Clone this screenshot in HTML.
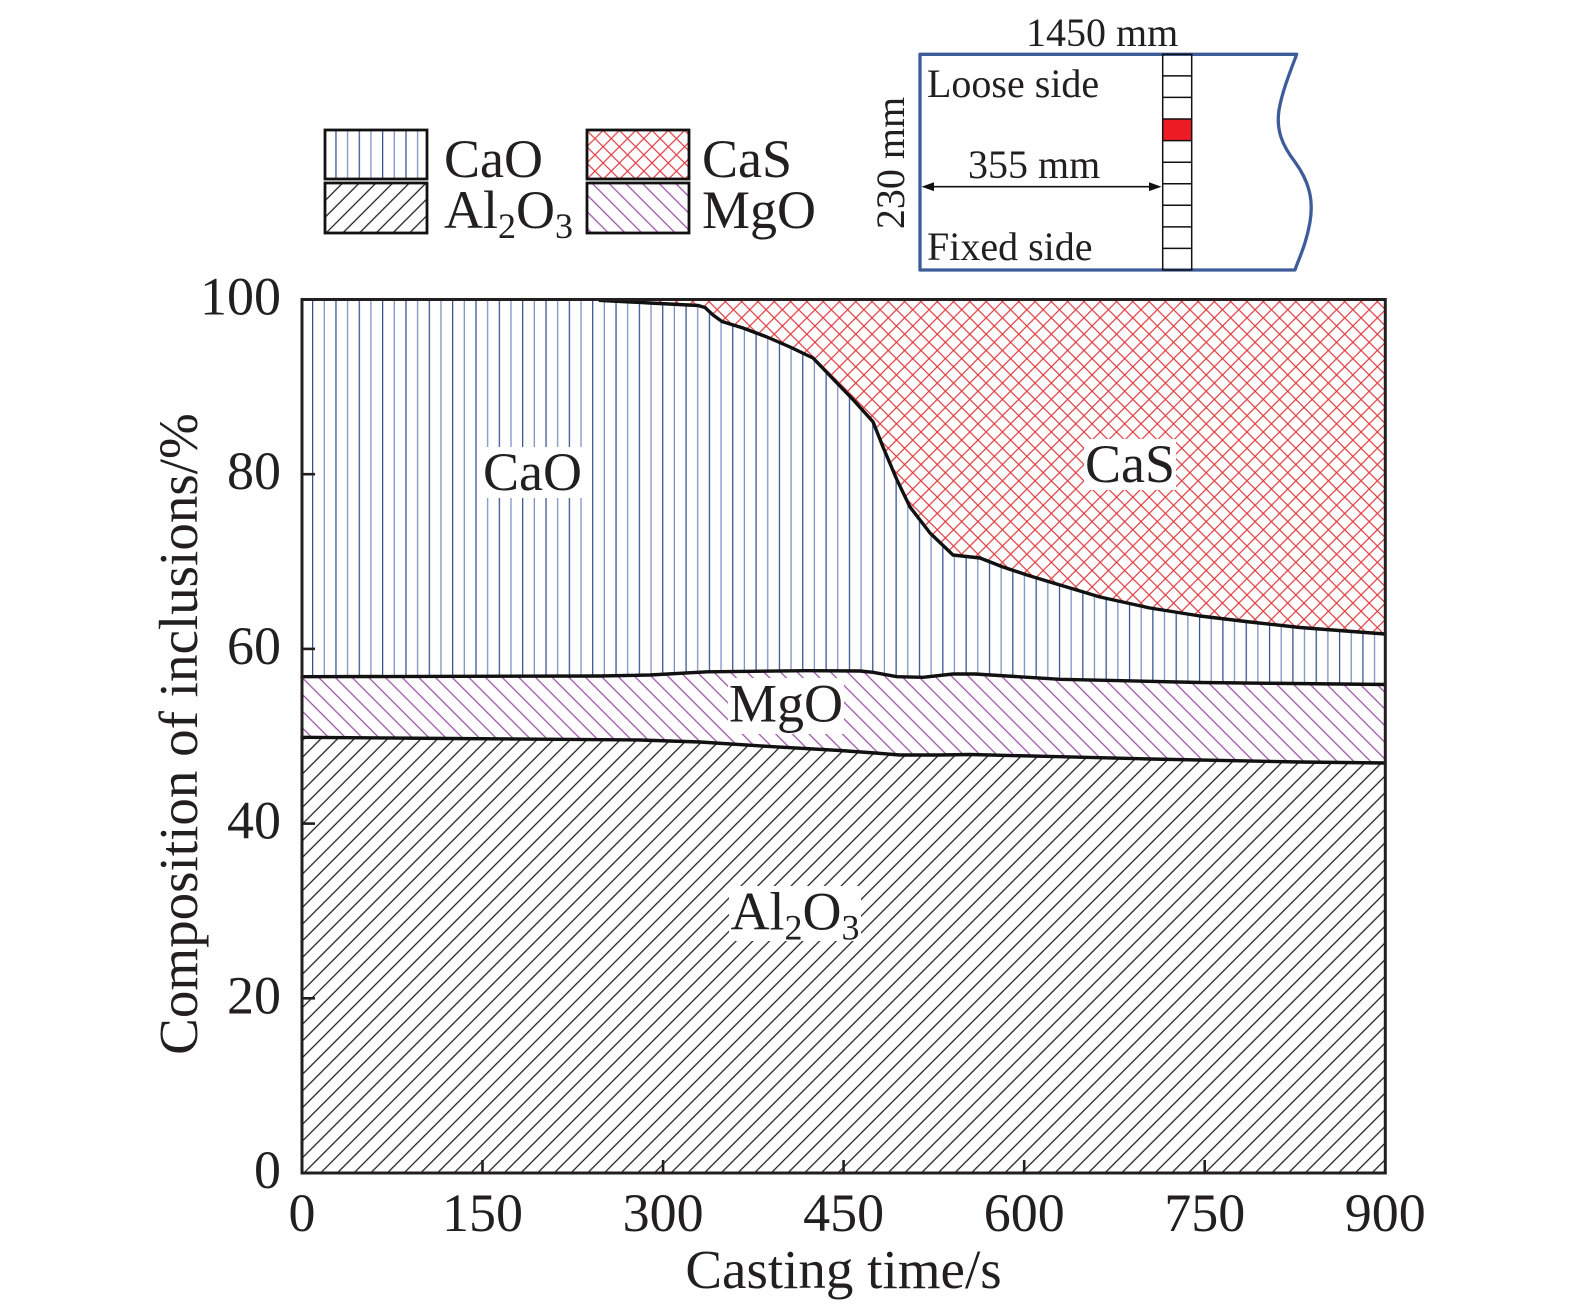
<!DOCTYPE html>
<html>
<head>
<meta charset="utf-8">
<style>
html,body{margin:0;padding:0;background:#fff;}
svg{display:block;}
text{font-family:"Liberation Serif","DejaVu Serif",serif;fill:#231f20;}
</style>
</head>
<body>
<svg width="1575" height="1310" viewBox="0 0 1575 1310" xmlns="http://www.w3.org/2000/svg">
<defs>
  <pattern id="pCaO" patternUnits="userSpaceOnUse" x="312" y="0" width="23.34" height="20">
    <line x1="0.6" y1="0" x2="0.6" y2="20" stroke="#34508f" stroke-width="1.3"/>
    <line x1="12.27" y1="0" x2="12.27" y2="20" stroke="#7f92c2" stroke-width="1.3"/>
  </pattern>
  <pattern id="pAl" patternUnits="userSpaceOnUse" width="11.8" height="10" patternTransform="rotate(45)">
    <line x1="5.9" y1="-1" x2="5.9" y2="11" stroke="#1a1a1a" stroke-width="1.25"/>
  </pattern>
  <pattern id="pMg" patternUnits="userSpaceOnUse" width="11.8" height="10" patternTransform="rotate(-45)">
    <line x1="5.9" y1="-1" x2="5.9" y2="11" stroke="#9b4fa6" stroke-width="1.25"/>
  </pattern>
  <pattern id="pCaS" patternUnits="userSpaceOnUse" width="16.3" height="16.3">
    <line x1="0" y1="0" x2="16.3" y2="16.3" stroke="#e03c40" stroke-width="1.2"/>
    <line x1="0" y1="16.3" x2="16.3" y2="0" stroke="#e03c40" stroke-width="1.2"/>
  </pattern>
</defs>

<!-- Plot regions -->
<!-- CaS (top) -->
<polygon fill="url(#pCaS)" points="302,299.5 1385,299.5 1385,634 1300,627.5 1250,622 1200,616 1150,608 1100,597 1050,582 1027,575 1003,567 980,558 953,555 930,533 910,507 897,480 883,447 873,421.8 855,401.7 837,383 813,358 790,347 767,337 743,328 722,321.5 713,315 705,307.5 698,305.5 650,303 600,300.4 302,299.5"/>
<!-- CaO -->
<polygon fill="url(#pCaO)" points="302,299.5 600,300.4 650,303 698,305.5 705,307.5 713,315 722,321.5 743,328 767,337 790,347 813,358 837,383 855,401.7 873,421.8 883,447 897,480 910,507 930,533 953,555 980,558 1003,567 1027,575 1050,582 1100,597 1150,608 1200,616 1250,622 1300,627.5 1385,634 1385,684.5 1200,682.5 1060,679.3 975,674 953,674 923,677.3 897,676.7 873,672.3 860,671 807,670.7 707,671.8 650,675 600,676 302,676.7"/>
<!-- MgO -->
<polygon fill="url(#pMg)" points="302,676.7 600,676 650,675 707,671.8 807,670.7 860,671 873,672.3 897,676.7 923,677.3 953,674 975,674 1060,679.3 1200,682.5 1385,684.5 1385,763 1300,762 1150,759 1060,756.7 970,754.5 940,755 900,755 875,753 840,750.5 773,746.7 700,742 640,740 450,738.5 302,737.3"/>
<!-- Al2O3 -->
<polygon fill="url(#pAl)" points="302,737.3 450,738.5 640,740 700,742 773,746.7 840,750.5 875,753 900,755 940,755 970,754.5 1060,756.7 1150,759 1300,762 1385,763 1385,1173 302,1173"/>

<!-- Boundaries -->
<g fill="none" stroke="#111" stroke-width="3.4" stroke-linejoin="round" stroke-linecap="round">
  <polyline points="600,300.4 650,303 698,305.5 705,307.5 713,315 722,321.5 743,328 767,337 790,347 813,358 837,383 855,401.7 873,421.8 883,447 897,480 910,507 930,533 953,555 980,558 1003,567 1027,575 1050,582 1100,597 1150,608 1200,616 1250,622 1300,627.5 1385,634"/>
  <polyline points="302,676.7 600,676 650,675 707,671.8 807,670.7 860,671 873,672.3 897,676.7 923,677.3 953,674 975,674 1060,679.3 1200,682.5 1385,684.5"/>
  <polyline points="302,737.3 450,738.5 640,740 700,742 773,746.7 840,750.5 875,753 900,755 940,755 970,754.5 1060,756.7 1150,759 1300,762 1385,763"/>
</g>

<!-- In-plot labels -->
<rect x="483" y="447" width="100" height="51" fill="#fff"/>
<text x="532.5" y="490" font-size="54" text-anchor="middle">CaO</text>
<rect x="1084" y="439" width="92" height="51" fill="#fff"/>
<text x="1130" y="482" font-size="54" text-anchor="middle">CaS</text>
<rect x="728" y="678" width="116" height="56" fill="#fff"/>
<text x="786" y="721.5" font-size="54" text-anchor="middle">MgO</text>
<rect x="729" y="886" width="132" height="55" fill="#fff"/>
<text x="795" y="929.5" font-size="54" text-anchor="middle">Al<tspan font-size="36" dy="10">2</tspan><tspan dy="-10">O</tspan><tspan font-size="36" dy="10">3</tspan></text>

<!-- Frame -->
<rect x="302" y="299.5" width="1083.3" height="873.5" fill="none" stroke="#231f20" stroke-width="3"/>

<!-- Ticks -->
<g stroke="#231f20" stroke-width="2.6">
  <line x1="482.5" y1="1173" x2="482.5" y2="1160"/>
  <line x1="663.1" y1="1173" x2="663.1" y2="1160"/>
  <line x1="843.6" y1="1173" x2="843.6" y2="1160"/>
  <line x1="1024.2" y1="1173" x2="1024.2" y2="1160"/>
  <line x1="1204.7" y1="1173" x2="1204.7" y2="1160"/>
  <line x1="302" y1="998.3" x2="315" y2="998.3"/>
  <line x1="302" y1="823.6" x2="315" y2="823.6"/>
  <line x1="302" y1="648.9" x2="315" y2="648.9"/>
  <line x1="302" y1="474.2" x2="315" y2="474.2"/>
</g>

<!-- Tick labels -->
<g font-size="54" text-anchor="middle">
  <text x="302" y="1231">0</text>
  <text x="482.5" y="1231">150</text>
  <text x="663.1" y="1231">300</text>
  <text x="843.6" y="1231">450</text>
  <text x="1024.2" y="1231">600</text>
  <text x="1204.7" y="1231">750</text>
  <text x="1385.3" y="1231">900</text>
</g>
<g font-size="54" text-anchor="end">
  <text x="281" y="1188">0</text>
  <text x="281" y="1013.3">20</text>
  <text x="281" y="838.6">40</text>
  <text x="281" y="663.9">60</text>
  <text x="281" y="489.2">80</text>
  <text x="281" y="314.5">100</text>
</g>

<!-- Axis titles -->
<text x="843.5" y="1288" font-size="55" text-anchor="middle">Casting time/s</text>
<text transform="translate(197,734) rotate(-90)" font-size="55" text-anchor="middle">Composition of inclusions/%</text>

<!-- Legend -->
<rect x="325" y="130" width="102" height="49" fill="url(#pCaO)" stroke="#111" stroke-width="2.8"/>
<rect x="325" y="183" width="102" height="50" fill="url(#pAl)" stroke="#111" stroke-width="2.8"/>
<rect x="587" y="130" width="102" height="49" fill="url(#pCaS)" stroke="#111" stroke-width="2.8"/>
<rect x="587" y="183" width="102" height="50" fill="url(#pMg)" stroke="#111" stroke-width="2.8"/>
<text x="444" y="177" font-size="54">CaO</text>
<text x="444" y="228" font-size="54">Al<tspan font-size="36" dy="10">2</tspan><tspan dy="-10">O</tspan><tspan font-size="36" dy="10">3</tspan></text>
<text x="702" y="177" font-size="54">CaS</text>
<text x="702" y="228" font-size="54">MgO</text>

<!-- Inset -->
<path d="M920,54.3 H1296.7 C1290,72 1282,92 1279,110 C1276,130 1282,145 1295,162 C1308,180 1314,198 1310,222 C1306,245 1299,258 1295,270 H920 Z" fill="#fff" stroke="#3e5c9a" stroke-width="3.3" stroke-linejoin="round"/>
<rect x="1162.7" y="119.0" width="29" height="21.6" fill="#ed1c24"/>
<g fill="none" stroke="#111" stroke-width="1.5">
  <rect x="1162.7" y="54.3" width="29" height="215.7"/>
  <line x1="1162.7" y1="75.9" x2="1191.7" y2="75.9"/>
  <line x1="1162.7" y1="97.4" x2="1191.7" y2="97.4"/>
  <line x1="1162.7" y1="119.0" x2="1191.7" y2="119.0"/>
  <line x1="1162.7" y1="140.6" x2="1191.7" y2="140.6"/>
  <line x1="1162.7" y1="162.2" x2="1191.7" y2="162.2"/>
  <line x1="1162.7" y1="183.7" x2="1191.7" y2="183.7"/>
  <line x1="1162.7" y1="205.3" x2="1191.7" y2="205.3"/>
  <line x1="1162.7" y1="226.9" x2="1191.7" y2="226.9"/>
  <line x1="1162.7" y1="248.4" x2="1191.7" y2="248.4"/>
</g>
<line x1="930" y1="186.7" x2="1152" y2="186.7" stroke="#111" stroke-width="1.6"/>
<polygon points="921.5,186.7 934,182.3 934,191.1" fill="#111"/>
<polygon points="1161.5,186.7 1149,182.3 1149,191.1" fill="#111"/>
<g font-size="40">
  <text x="1026" y="46">1450 mm</text>
  <text x="927" y="97">Loose side</text>
  <text x="968" y="178">355 mm</text>
  <text x="927" y="260">Fixed side</text>
</g>
<text transform="translate(904,163) rotate(-90)" font-size="40" text-anchor="middle">230 mm</text>
</svg>
</body>
</html>
